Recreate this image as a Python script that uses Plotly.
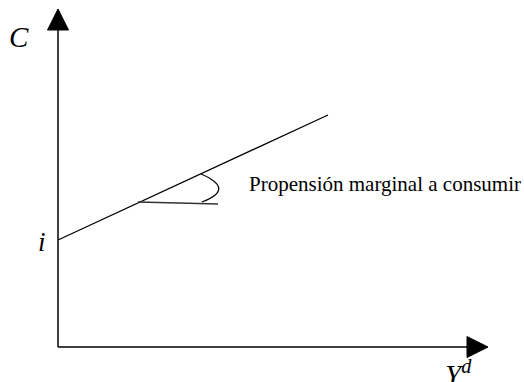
import plotly.graph_objects as go

# Consumption function C = i + c * Yd (two endpoints of the straight line)
disposable_income = [0, 270]
consumption = [107, 232]

# Labels
y_label = "<i>C</i>"
x_label = "<i>Y<sup>d</sup></i>"
intercept_label = "<i>i</i>"
slope_label = "Propensión marginal a consumir"

serif = "Liberation Serif, Times New Roman, serif"

fig = go.Figure()

fig.add_trace(go.Scatter(
    x=disposable_income, y=consumption, mode="lines",
    line=dict(color="black", width=1.3), hoverinfo="skip", showlegend=False,
))

shapes = [
    # vertical axis and arrow head
    dict(type="line", x0=0, y0=0, x1=0, y1=318, line=dict(color="black", width=1.5)),
    dict(type="path", path="M -10.5,317 L 10.5,317 L 0,338 Z",
         fillcolor="black", line=dict(color="black", width=1)),
    # horizontal axis and arrow head
    dict(type="line", x0=0, y0=0, x1=410, y1=0, line=dict(color="black", width=1.5)),
    dict(type="path", path="M 409,10.5 L 409,-10.5 L 430,0 Z",
         fillcolor="black", line=dict(color="black", width=1)),
    # horizontal reference under the line
    dict(type="line", x0=80, y0=145, x1=160, y1=143, line=dict(color="#333333", width=1.5)),
    # angle arc
    dict(type="path", path="M 143,173 Q 178,158 144,145",
         line=dict(color="black", width=1.3)),
]

annotations = [
    dict(x=-39, y=310, text=y_label, showarrow=False,
         font=dict(family=serif, size=29, color="black"), xanchor="center", yanchor="middle"),
    dict(x=-16, y=105, text=intercept_label, showarrow=False,
         font=dict(family=serif, size=27, color="black"), xanchor="center", yanchor="middle"),
    dict(x=385, y=-6, text=x_label, showarrow=False,
         font=dict(family=serif, size=29, color="black"), xanchor="left", yanchor="top"),
    dict(x=189, y=163, text=slope_label, showarrow=False,
         font=dict(family=serif, size=21, color="black"), xanchor="left", yanchor="middle"),
]

fig.update_layout(
    width=524, height=382,
    margin=dict(l=0, r=0, t=0, b=0),
    paper_bgcolor="white", plot_bgcolor="white",
    xaxis=dict(range=[-58, 466], visible=False, fixedrange=True),
    yaxis=dict(range=[-35, 347], visible=False, fixedrange=True),
    shapes=shapes, annotations=annotations,
)

fig.write_html("out.html")
